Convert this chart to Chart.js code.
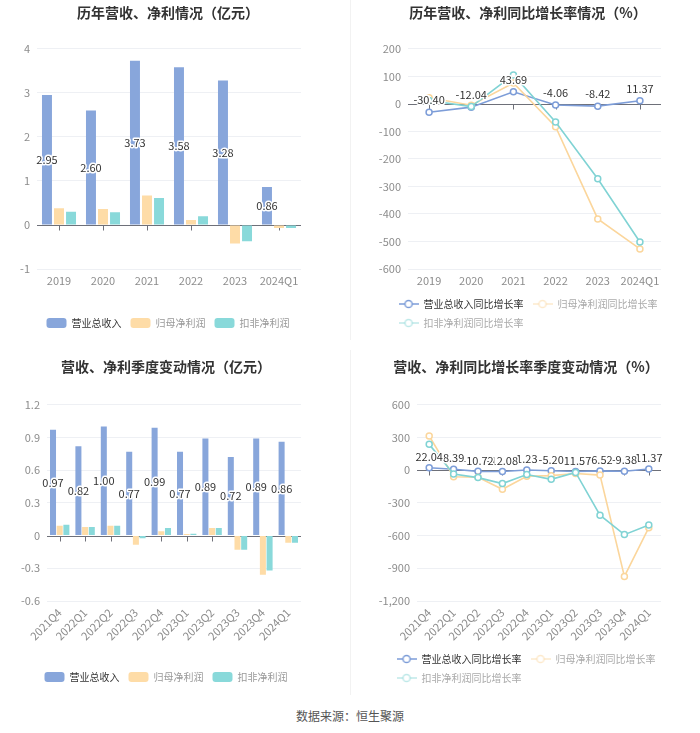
<!DOCTYPE html>
<html lang="zh">
<head>
<meta charset="utf-8">
<title>营收、净利情况</title>
<script src="https://cdn.jsdelivr.net/npm/chart.js@4.4.1/dist/chart.umd.min.js"></script>
<style>
  html, body { margin: 0; padding: 0; background: #fff; }
  body { width: 700px; height: 733px; position: relative; font-family: "Noto Sans CJK SC", "Noto Sans", sans-serif; }
  .box { position: absolute; }
  .box canvas { display: block; }
  .sep { position: absolute; left: 350px; width: 1px; background: #f2f2f2; }
  #source { position: absolute; left: 0; top: 707px; width: 700px; text-align: center; font-size: 12px; color: #555; }
</style>
</head>
<body>
<div class="box" style="left:0;top:0"><canvas id="c1" width="350" height="345"></canvas></div>
<div class="box" style="left:350px;top:0"><canvas id="c2" width="350" height="345"></canvas></div>
<div class="box" style="left:0;top:345px"><canvas id="c3" width="350" height="355"></canvas></div>
<div class="box" style="left:350px;top:345px"><canvas id="c4" width="350" height="355"></canvas></div>
<div class="sep" style="top:0;height:340px"></div>
<div class="sep" style="top:350px;height:345px"></div>
<div id="source">数据来源：恒生聚源</div>
<script>
// annual data (亿元 / %)
var years = ['2019', '2020', '2021', '2022', '2023', '2024Q1'];
var yearRevenue = [2.95, 2.60, 3.73, 3.58, 3.28, 0.86];
var yearNetProfit = [0.38, 0.36, 0.67, 0.11, -0.42, -0.07];
var yearDeducted = [0.30, 0.29, 0.61, 0.20, -0.37, -0.07];
var yearRevenueGrowth = [-30.40, -12.04, 43.69, -4.06, -8.42, 11.37];
var yearNetProfitGrowth = [22, -5, 76, -83, -418, -527];
var yearDeductedGrowth = [12, -10, 105, -66, -272, -502];

// quarterly data
var quarters = ['2021Q4', '2022Q1', '2022Q2', '2022Q3', '2022Q4', '2023Q1', '2023Q2', '2023Q3', '2023Q4', '2024Q1'];
var qRevenue = [0.97, 0.82, 1.00, 0.77, 0.99, 0.77, 0.89, 0.72, 0.89, 0.86];
var qNetProfit = [0.09, 0.08, 0.09, -0.085, 0.04, 0.015, 0.07, -0.13, -0.36, -0.065];
var qDeducted = [0.10, 0.08, 0.09, -0.025, 0.07, 0.018, 0.07, -0.13, -0.32, -0.065];
var qRevenueGrowth = [22.04, 8.39, -10.72, -12.08, 1.23, -5.20, -11.57, -6.52, -9.38, 11.37];
var qNetProfitGrowth = [314, -60, -65, -175, -55, -50, -30, -45, -975, -527];
var qDeductedGrowth = [237, -35, -68, -123, -40, -84, -20, -413, -591, -502];

Chart.defaults.font.family = '"Noto Sans CJK SC", "Noto Sans", sans-serif';
Chart.defaults.color = '#8c8c8c';
Chart.defaults.animation = false;
Chart.defaults.events = [];

var BLUE = '#88a6db', ORANGE = '#fedca7', TEAL = '#89d9da';
var BLUE_L = '#7d9dd8', ORANGE_L = '#fbd69c', TEAL_L = '#80d3d4';

// axis line at zero with small ticks under each category
var zeroAxis = {
  id: 'zeroAxis',
  beforeDatasetsDraw: function (chart) {
    var x = chart.scales.x, y = chart.scales.y, a = chart.chartArea, ctx = chart.ctx;
    var y0 = Math.round(y.getPixelForValue(0)) + 0.5;
    ctx.save();
    ctx.strokeStyle = '#6E7079';
    ctx.lineWidth = 1;
    ctx.beginPath();
    ctx.moveTo(a.left, y0);
    ctx.lineTo(a.right, y0);
    for (var i = 0; i < x.ticks.length; i++) {
      var px = Math.round(x.getPixelForTick(i)) + 0.5;
      ctx.moveTo(px, y0);
      ctx.lineTo(px, y0 + 5);
    }
    ctx.stroke();
    ctx.restore();
  }
};

// value labels for the first series
var valueLabels = {
  id: 'valueLabels',
  afterDatasetsDraw: function (chart, args, opts) {
    var meta = chart.getDatasetMeta(0);
    var data = chart.data.datasets[0].data;
    var ctx = chart.ctx;
    ctx.save();
    ctx.font = '11px "Noto Sans CJK SC", sans-serif';
    ctx.textAlign = 'center';
    ctx.textBaseline = 'middle';
    ctx.lineJoin = 'round';
    ctx.lineWidth = 3;
    ctx.strokeStyle = '#fff';
    ctx.fillStyle = '#333';
    for (var i = meta.data.length - 1; i >= 0; i--) {
      var el = meta.data[i];
      var ty = opts.inside ? (el.y + el.base) / 2 : el.y - opts.offset;
      var t = data[i].toFixed(2);
      ctx.strokeText(t, el.x, ty);
      ctx.fillText(t, el.x, ty);
    }
    ctx.restore();
  }
};

// second legend row starts where the first one starts
var legendRowFix = {
  id: 'legendRowFix',
  afterUpdate: function (chart) {
    var lg = chart.legend;
    if (lg && lg.lineWidths && lg.lineWidths.length > 1) lg.lineWidths[1] = lg.lineWidths[0];
  }
};

function fixWidth(w) { return function (s) { s.width = w; }; }
function fixHeight(h) { return function (s) { s.height = h; }; }

function titleOpt(text, top, bottom) {
  return { display: true, text: text, color: '#333', font: { size: 14, weight: 'bold' }, padding: { top: top, bottom: bottom } };
}

function yScale(min, max, step, w, fmt) {
  return {
    min: min, max: max, afterFit: fixWidth(w),
    border: { display: false },
    grid: { color: function (c) { return c.tick && c.tick.value === 0 ? 'rgba(0,0,0,0)' : '#eef0f4'; }, drawTicks: false },
    ticks: { stepSize: step, padding: 7, font: { size: 11 }, callback: fmt }
  };
}

function xScale(h, rot) {
  return {
    offset: true, afterFit: fixHeight(h),
    border: { display: false },
    grid: { display: false, drawTicks: false },
    ticks: { autoSkip: false, minRotation: rot, maxRotation: rot, padding: 5, font: { size: 11 } }
  };
}

// empty right-hand box that only reserves space
function ghostAxis(w) {
  return { type: 'linear', position: 'right', afterFit: fixWidth(w), grid: { display: false }, border: { display: false }, ticks: { display: false } };
}

function plain(v) { return Math.abs(v) < 1e-9 ? '0' : String(v); }
function oneDec(v) { return Math.abs(v) < 1e-9 ? '0' : v.toFixed(1); }
function thousands(v) { return Math.abs(v) < 1e-9 ? '0' : v.toLocaleString('en-US'); }

function barLegend() {
  return {
    position: 'bottom',
    labels: {
      boxWidth: 20, boxHeight: 10, padding: 9, font: { size: 10 }, useBorderRadius: true, borderRadius: 3,
      generateLabels: function (chart) {
        return chart.data.datasets.map(function (ds, i) {
          return { text: ds.label, fillStyle: ds.backgroundColor, strokeStyle: ds.backgroundColor, lineWidth: 0,
            fontColor: i === 0 ? '#333' : '#999', datasetIndex: i, hidden: false, borderRadius: 3 };
        });
      }
    }
  };
}

function lineIcon(color, alpha) {
  var c = document.createElement('canvas');
  c.width = 20; c.height = 10;
  var g = c.getContext('2d');
  g.globalAlpha = alpha;
  g.strokeStyle = color;
  g.lineWidth = 1.5;
  g.beginPath(); g.moveTo(0, 5); g.lineTo(20, 5); g.stroke();
  g.globalAlpha = 1;
  g.fillStyle = '#fff';
  g.beginPath(); g.arc(10, 5, 3.6, 0, Math.PI * 2); g.fill();
  g.globalAlpha = alpha;
  g.stroke();
  return c;
}

function lineLegend() {
  return {
    position: 'bottom',
    labels: {
      usePointStyle: true, pointStyleWidth: 20, boxHeight: 10, padding: 9, font: { size: 10 },
      generateLabels: function (chart) {
        return chart.data.datasets.map(function (ds, i) {
          return { text: ds.label, pointStyle: lineIcon(ds.borderColor, i === 0 ? 1 : 0.5),
            fontColor: i === 0 ? '#333' : '#aaa', lineWidth: 0, strokeStyle: ds.borderColor, fillStyle: '#fff',
            datasetIndex: i, hidden: false };
        });
      }
    }
  };
}

function lineSet(label, data, color, order) {
  return { label: label, data: data, borderColor: color, backgroundColor: color, borderWidth: 1.6,
    pointRadius: 3, pointBorderWidth: 1.5, pointBackgroundColor: '#fff', pointBorderColor: color,
    tension: 0, order: order };
}

// 历年营收、净利情况
new Chart(document.getElementById('c1'), {
  type: 'bar',
  data: {
    labels: years,
    datasets: [
      { label: '营业总收入', data: yearRevenue, backgroundColor: BLUE },
      { label: '归母净利润', data: yearNetProfit, backgroundColor: ORANGE },
      { label: '扣非净利润', data: yearDeducted, backgroundColor: TEAL }
    ]
  },
  options: {
    responsive: false,
    layout: { padding: { left: 0, right: 14, top: 0, bottom: 7 } },
    datasets: { bar: { categoryPercentage: 0.82, barPercentage: 0.83, borderWidth: 0 } },
    scales: { x: xScale(40, 0), y: yScale(-1, 4, 1, 37, plain), y2: ghostAxis(35) },
    plugins: {
      title: titleOpt('历年营收、净利情况（亿元）', 4, 28),
      legend: barLegend(),
      tooltip: { enabled: false },
      valueLabels: { inside: true }
    }
  },
  plugins: [zeroAxis, valueLabels]
});

// 历年营收、净利同比增长率情况
new Chart(document.getElementById('c2'), {
  type: 'line',
  data: {
    labels: years,
    datasets: [
      lineSet('营业总收入同比增长率', yearRevenueGrowth, BLUE_L, 3),
      lineSet('归母净利润同比增长率', yearNetProfitGrowth, ORANGE_L, 2),
      lineSet('扣非净利润同比增长率', yearDeductedGrowth, TEAL_L, 1)
    ]
  },
  options: {
    responsive: false,
    layout: { padding: { left: 6, right: 0, top: 0, bottom: 7 } },
    scales: { x: xScale(21, 0), y: yScale(-600, 200, 100, 52, plain), y2: ghostAxis(39) },
    plugins: {
      title: titleOpt('历年营收、净利同比增长率情况（%）', 4, 28),
      legend: lineLegend(),
      tooltip: { enabled: false },
      valueLabels: { inside: false, offset: 12 }
    }
  },
  plugins: [zeroAxis, valueLabels, legendRowFix]
});

// 营收、净利季度变动情况
new Chart(document.getElementById('c3'), {
  type: 'bar',
  data: {
    labels: quarters,
    datasets: [
      { label: '营业总收入', data: qRevenue, backgroundColor: BLUE },
      { label: '归母净利润', data: qNetProfit, backgroundColor: ORANGE },
      { label: '扣非净利润', data: qDeducted, backgroundColor: TEAL }
    ]
  },
  options: {
    responsive: false,
    layout: { padding: { left: 0, right: 18, top: 0, bottom: 8 } },
    datasets: { bar: { categoryPercentage: 0.79, barPercentage: 0.9, borderWidth: 0 } },
    scales: { x: xScale(62, 45), y: yScale(-0.6, 1.2, 0.3, 47, oneDec), y2: ghostAxis(31) },
    plugins: {
      title: titleOpt('营收、净利季度变动情况（亿元）', 13, 30),
      legend: barLegend(),
      tooltip: { enabled: false },
      valueLabels: { inside: true }
    }
  },
  plugins: [zeroAxis, valueLabels]
});

// 营收、净利同比增长率季度变动情况
new Chart(document.getElementById('c4'), {
  type: 'line',
  data: {
    labels: quarters,
    datasets: [
      lineSet('营业总收入同比增长率', qRevenueGrowth, BLUE_L, 3),
      lineSet('归母净利润同比增长率', qNetProfitGrowth, ORANGE_L, 2),
      lineSet('扣非净利润同比增长率', qDeductedGrowth, TEAL_L, 1)
    ]
  },
  options: {
    responsive: false,
    layout: { padding: { left: 2, right: 0, top: 0, bottom: 7 } },
    scales: { x: xScale(44, 45), y: yScale(-1200, 600, 300, 65, thousands), y2: ghostAxis(39) },
    plugins: {
      title: titleOpt('营收、净利同比增长率季度变动情况（%）', 13, 30),
      legend: lineLegend(),
      tooltip: { enabled: false },
      valueLabels: { inside: false, offset: 11 }
    }
  },
  plugins: [zeroAxis, valueLabels, legendRowFix]
});
</script>
</body>
</html>
